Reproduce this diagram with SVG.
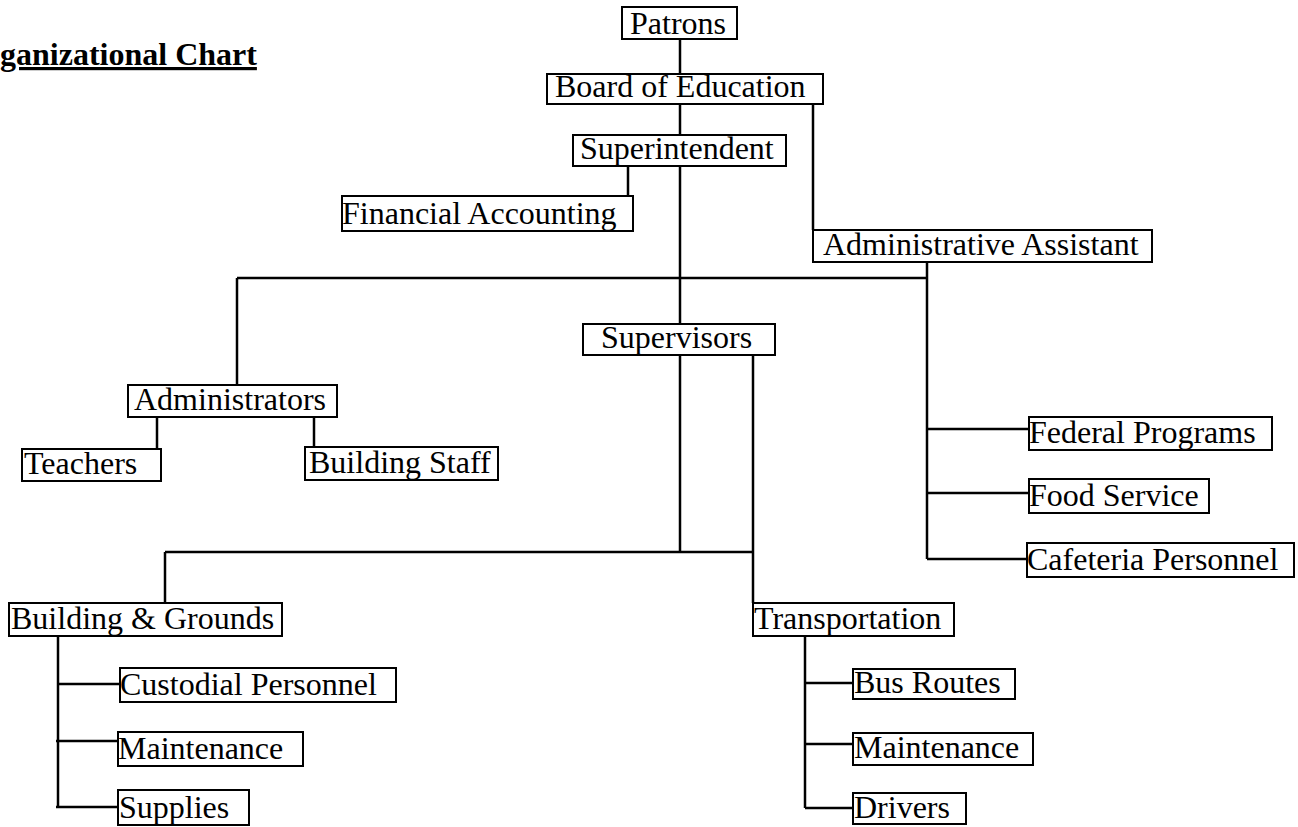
<svg xmlns="http://www.w3.org/2000/svg" width="1298" height="827" viewBox="0 0 1298 827">
<style>
.box{fill:#fff;stroke:#000;stroke-width:2}
.t{font-family:"Liberation Serif","Times New Roman",serif;font-size:32px;fill:#000}
.title{font-family:"Liberation Serif","Times New Roman",serif;font-size:32px;font-weight:bold;fill:#000;text-decoration:underline}
.c line{stroke:#000;stroke-width:2.5}
</style>
<rect width="1298" height="827" fill="#fff"/>
<text class="title" x="0" y="65">ganizational Chart</text>
<g class="c" id="connectors">
<line x1="680" y1="39" x2="680" y2="74"/>
<line x1="680" y1="104" x2="680" y2="135"/>
<line x1="813" y1="104" x2="813" y2="230"/>
<line x1="628" y1="166" x2="628" y2="196"/>
<line x1="680" y1="166" x2="680" y2="324"/>
<line x1="237" y1="278" x2="927" y2="278"/>
<line x1="237" y1="278" x2="237" y2="385"/>
<line x1="927" y1="262" x2="927" y2="559"/>
<line x1="927" y1="429" x2="1029" y2="429"/>
<line x1="927" y1="493" x2="1029" y2="493"/>
<line x1="927" y1="559" x2="1027" y2="559"/>
<line x1="157" y1="417" x2="157" y2="449"/>
<line x1="314" y1="417" x2="314" y2="447"/>
<line x1="680" y1="355" x2="680" y2="552"/>
<line x1="165" y1="552" x2="753" y2="552"/>
<line x1="753" y1="352" x2="753" y2="603"/>
<line x1="165" y1="552" x2="165" y2="603"/>
<line x1="58" y1="636" x2="58" y2="807"/>
<line x1="58" y1="684" x2="120" y2="684"/>
<line x1="56" y1="741" x2="118" y2="741"/>
<line x1="56" y1="807" x2="118" y2="807"/>
<line x1="805" y1="636" x2="805" y2="808"/>
<line x1="805" y1="683" x2="853" y2="683"/>
<line x1="805" y1="744" x2="853" y2="744"/>
<line x1="805" y1="808" x2="853" y2="808"/>
</g>
<g id="patrons"><rect class="box" x="622" y="7" width="115" height="32"/><text class="t" x="630" y="34">Patrons</text></g>
<g id="board"><rect class="box" x="547" y="74" width="276" height="30"/><text class="t" x="555" y="97">Board of Education</text></g>
<g id="superintendent"><rect class="box" x="573" y="135" width="213" height="31"/><text class="t" x="580" y="159">Superintendent</text></g>
<g id="financial"><rect class="box" x="342" y="196" width="291" height="35"/><text class="t" x="342" y="224">Financial Accounting</text></g>
<g id="adminasst"><rect class="box" x="813" y="230" width="339" height="32"/><text class="t" x="823" y="255">Administrative Assistant</text></g>
<g id="supervisors"><rect class="box" x="583" y="324" width="192" height="31"/><text class="t" x="601" y="348">Supervisors</text></g>
<g id="administrators"><rect class="box" x="128" y="385" width="209" height="32"/><text class="t" x="134" y="410">Administrators</text></g>
<g id="teachers"><rect class="box" x="22" y="449" width="139" height="32"/><text class="t" x="24" y="474">Teachers</text></g>
<g id="buildingstaff"><rect class="box" x="305" y="447" width="193" height="33"/><text class="t" x="309" y="473">Building Staff</text></g>
<g id="federal"><rect class="box" x="1029" y="417" width="243" height="33"/><text class="t" x="1029" y="443">Federal Programs</text></g>
<g id="food"><rect class="box" x="1029" y="479" width="180" height="34"/><text class="t" x="1029" y="506">Food Service</text></g>
<g id="cafeteria"><rect class="box" x="1027" y="543" width="267" height="34"/><text class="t" x="1027" y="570">Cafeteria Personnel</text></g>
<g id="bg"><rect class="box" x="9" y="603" width="273" height="33"/><text class="t" x="11" y="629">Building &amp; Grounds</text></g>
<g id="transportation"><rect class="box" x="753" y="603" width="201" height="33"/><text class="t" x="754" y="629">Transportation</text></g>
<g id="custodial"><rect class="box" x="120" y="668" width="276" height="34"/><text class="t" x="120" y="695">Custodial Personnel</text></g>
<g id="maint1"><rect class="box" x="118" y="732" width="185" height="34"/><text class="t" x="118" y="759">Maintenance</text></g>
<g id="supplies"><rect class="box" x="118" y="790" width="131" height="35"/><text class="t" x="119" y="818">Supplies</text></g>
<g id="bus"><rect class="box" x="853" y="669" width="162" height="30"/><text class="t" x="854" y="693">Bus Routes</text></g>
<g id="maint2"><rect class="box" x="853" y="733" width="180" height="32"/><text class="t" x="854" y="758">Maintenance</text></g>
<g id="drivers"><rect class="box" x="853" y="793" width="113" height="31"/><text class="t" x="854" y="818">Drivers</text></g>
</svg>
